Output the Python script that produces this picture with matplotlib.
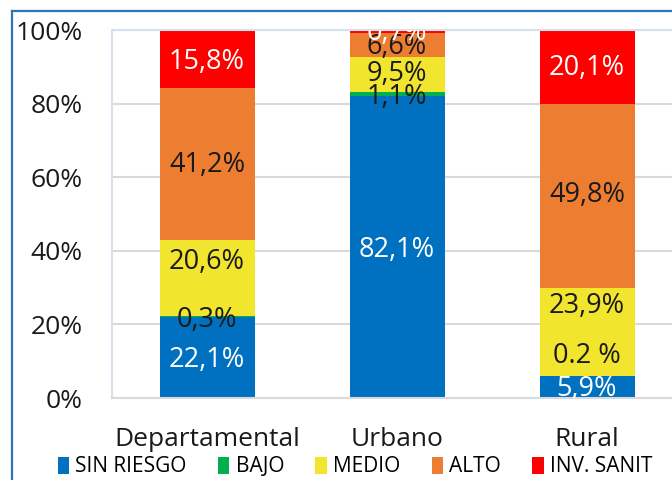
import numpy as np
import matplotlib.pyplot as plt
from matplotlib.lines import Line2D
from matplotlib.patches import Patch

plt.rcParams['font.family'] = ['Open Sans', 'DejaVu Sans']

# Données (%)
categorias = ['Departamental', 'Urbano', 'Rural']
series = ['SIN RIESGO', 'BAJO', 'MEDIO', 'ALTO', 'INV. SANIT']
sin_riesgo = [22.1, 82.1, 5.9]
bajo = [0.3, 1.1, 0.2]
medio = [20.6, 9.5, 23.9]
alto = [41.2, 6.6, 49.8]
inv_sanit = [15.8, 0.7, 20.1]
etiquetas = [
    ['22,1%', '82,1%', '5,9%'],
    ['0,3%', '1,1%', '0.2 %'],
    ['20,6%', '9,5%', '23,9%'],
    ['41,2%', '6,6%', '49,8%'],
    ['15,8%', '0,7%', '20,1%'],
]

colores = ['#0070C0', '#00B050', '#F2E52E', '#ED7D31', '#FF0000']
color_texto = [
    ['white', 'white', 'white'],
    ['#1a1a1a', '#1a1a1a', '#1a1a1a'],
    ['#1a1a1a', '#1a1a1a', '#1a1a1a'],
    ['#1a1a1a', '#1a1a1a', '#1a1a1a'],
    ['white', 'white', 'white'],
]
# décalage vertical des étiquettes par rapport au centre du segment
decalage = [
    [-0.7, -0.8, -0.5],
    [-1.0, -0.9, 5.4],
    [4.3, 0.0, 7.0],
    [-0.3, -0.6, 0.2],
    [-0.7, -0.6, -0.2],
]

valores = np.array([sin_riesgo, bajo, medio, alto, inv_sanit])

fig = plt.figure(figsize=(6.72, 4.80), dpi=100)
ax = fig.add_axes([112 / 672, 82 / 480, 570 / 672, 368 / 480])

x = np.arange(len(categorias))
base = np.zeros(len(categorias))
for i, serie in enumerate(series):
    ax.bar(x, valores[i], 0.5, bottom=base, color=colores[i], zorder=2)
    for j in range(len(categorias)):
        y = base[j] + valores[i][j] / 2 + decalage[i][j]
        ax.text(x[j], y, etiquetas[i][j], ha='center', va='center',
                fontsize=19.5, color=color_texto[i][j], zorder=3, clip_on=True)
    base += valores[i]

ax.set_xlim(-0.5, 2.5)
ax.set_ylim(0, 100)
ax.set_yticks(np.arange(0, 101, 20))
ax.set_yticklabels([f'{v}%' for v in range(0, 101, 20)], fontsize=19, color='#1a1a1a')
ax.set_xticks(x)
ax.set_xticklabels(categorias, fontsize=19, color='#1a1a1a')
ax.tick_params(axis='y', length=0, pad=21)
ax.tick_params(axis='x', length=0, pad=21)
ax.grid(axis='y', color='#D9D9D9', linewidth=1.5, zorder=0)
ax.spines['right'].set_visible(False)
ax.spines['left'].set_color('#D5E1EF')
ax.spines['top'].set_color('#D5E1EF')
ax.spines['bottom'].set_color('#D9D9D9')
for s in ['left', 'top', 'bottom']:
    ax.spines[s].set_linewidth(1.5)

handles = [Patch(facecolor=c, edgecolor='none') for c in colores]
fig.legend(handles, series, loc='center', bbox_to_anchor=(355 / 672, 1 - 467 / 480),
           ncol=5, frameon=False, fontsize=15, handlelength=0.55, handleheight=0.9,
           handletextpad=0.3, columnspacing=1.5, borderpad=0)

# cadre bleu de la capture
fig.add_artist(Line2D([12 / 672, 12 / 672], [0, 1 - 11 / 480], color='#2E75B6', linewidth=1.6))
fig.add_artist(Line2D([12 / 672, 1], [1 - 11 / 480, 1 - 11 / 480], color='#2E75B6', linewidth=1.6))

fig.savefig('out.png', dpi=100)
